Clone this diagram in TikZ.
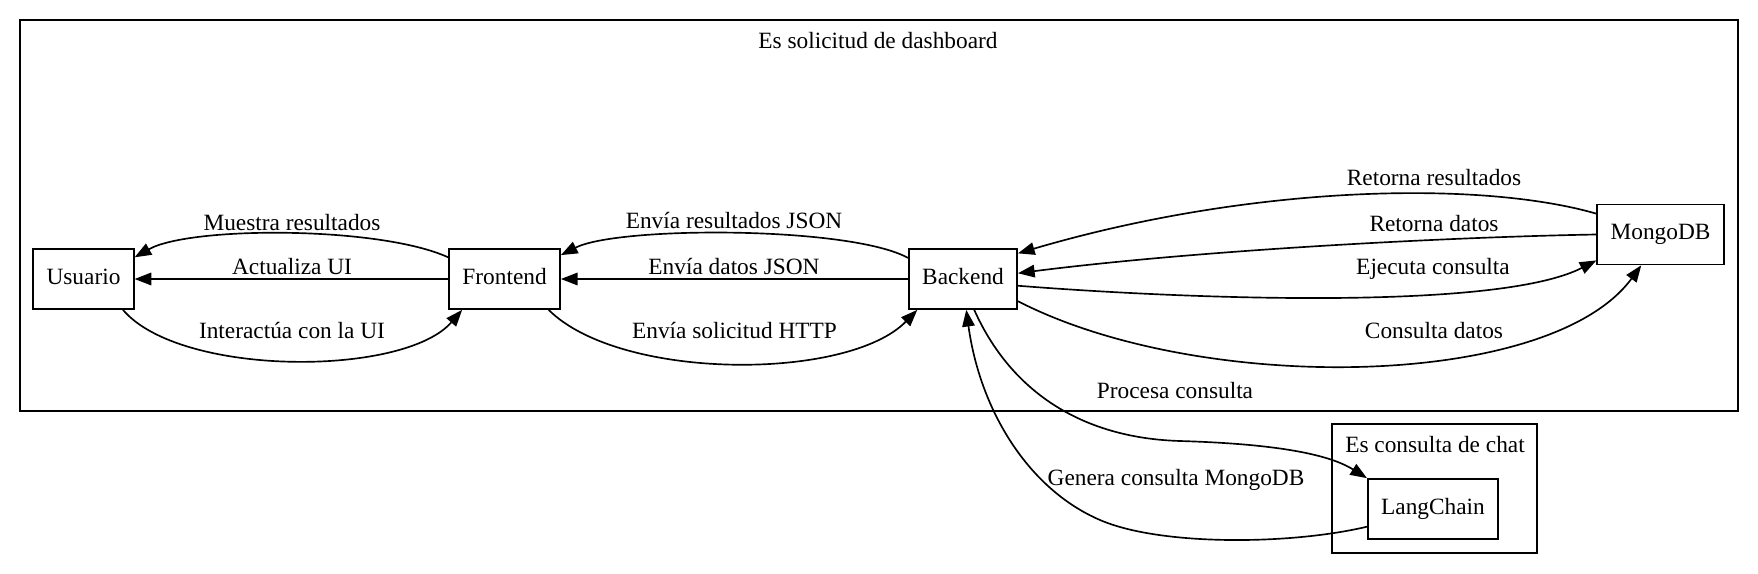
\documentclass[tikz,border=0pt]{standalone}
\usepackage{fontspec}
\setmainfont{Liberation Serif}
\usetikzlibrary{arrows.meta}
\begin{document}
\begin{tikzpicture}[x=0.6pt,y=-0.6pt,
  box/.style={draw, line width=1pt, minimum height=36pt, minimum width=54pt, inner xsep=8pt, inner ysep=0pt, font=\fontsize{14}{16}\selectfont, text height=9.5pt, text depth=3pt},
  lbl/.style={font=\fontsize{14}{16}\selectfont, anchor=base, inner sep=0pt},
  edge/.style={line width=1pt, -{Triangle[length=10pt,width=7.5pt]}},
  cluster/.style={line width=1pt}]
\useasboundingbox (0,0) rectangle (1758,573);
\draw[cluster] (20,20) rectangle (1738,411);
\draw[cluster] (1332,424) rectangle (1537,553);
\node[lbl] (t1) at (878,48) {Es solicitud de dashboard};
\node[lbl] (t2) at (1435,452) {Es consulta de chat};

\node[box] (u) at (83.5,279) {Usuario};
\node[box] (f) at (504.6,279) {Frontend};
\node[box] (b) at (963,279) {Backend};
\node[box] (m) at (1660.5,234.5) {MongoDB};
\node[box] (l) at (1433,509) {LangChain};

\coordinate (pc) at (1180,441);
\coordinate (gc) at (1100,520);

\draw[edge] (u.-38) .. controls (180,377) and (404,377) .. (f.-144);
\draw[edge] (f.west) -- (u.east);
\draw[edge] (f.159) .. controls (380,226) and (190,226) .. (u.23.6);
\draw[edge] (f.-35.5) .. controls (620,381) and (848,381) .. (b.-146);
\draw[edge] (b.west) -- (f.east);
\draw[edge] (b.159) .. controls (850,226) and (618,226) .. (f.23.6);
\draw[edge] (b.-7) .. controls (1200,300) and (1500,310) .. (m.-158);
\draw[edge] (m.west) .. controls (1450,237) and (1200,250) .. (b.6);
\draw[edge] (m.162) .. controls (1480,180) and (1250,185) .. (b.25);
\draw[edge] (b.-22.7) .. controls (1200,395) and (1550,390) .. (m.-122);
\draw[edge] (b.-70) .. controls (1010,390) and (1080,438) .. (pc) .. controls (1280,444) and (1330,455) .. (l.north west);
\draw[edge] (l.-165) .. controls (1290,545) and (1160,546) .. (gc) .. controls (1028,489) and (980,410) .. (b.-84);

\node[lbl] (e1) at (292,230) {Muestra resultados};
\node[lbl] (e2) at (292,274) {Actualiza UI};
\node[lbl] (e3) at (292,338) {Interactúa con la UI};
\node[lbl] (e4) at (734,228) {Envía resultados JSON};
\node[lbl] (e5) at (734,274) {Envía datos JSON};
\node[lbl] (e6) at (734.5,338) {Envía solicitud HTTP};
\node[lbl] (e7) at (1434,185) {Retorna resultados};
\node[lbl] (e8) at (1434,231) {Retorna datos};
\node[lbl] (e9) at (1433,274) {Ejecuta consulta};
\node[lbl] (e10) at (1434,338) {Consulta datos};
\node[lbl] (e11) at (1175,398) {Procesa consulta};
\node[lbl] (e12) at (1176,485) {Genera consulta MongoDB};
\end{tikzpicture}
\end{document}
